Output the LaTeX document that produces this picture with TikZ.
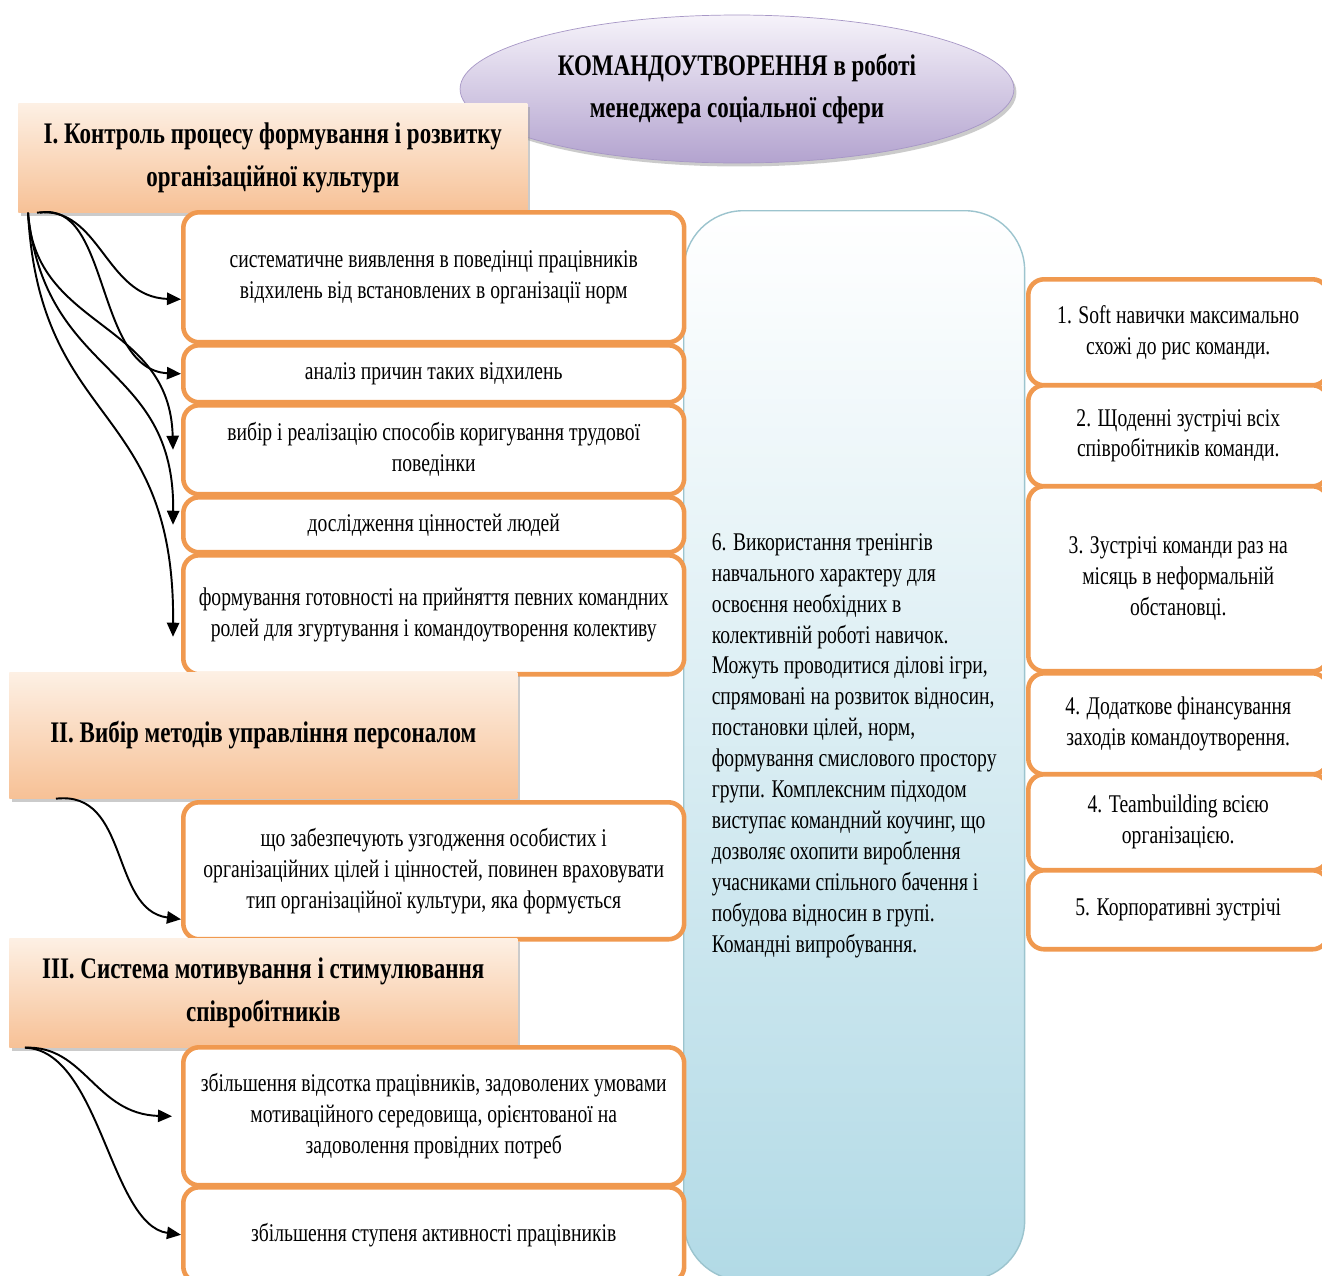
\documentclass[tikz,border=0pt]{standalone}
\usepackage{fontspec}
\setmainfont[FakeStretch=0.77]{Liberation Serif}
\usetikzlibrary{shapes.geometric, arrows.meta, positioning, shadows}
\definecolor{boxorange}{HTML}{F0994F}
\definecolor{hdrtop}{HTML}{FDF0E4}
\definecolor{hdrbot}{HTML}{F7C196}
\definecolor{lilactop}{HTML}{F6F3FA}
\definecolor{lilacbot}{HTML}{B3A3CF}
\definecolor{lilacline}{HTML}{A797C6}
\definecolor{skybot}{HTML}{B2DAE6}
\definecolor{skyline}{HTML}{9CC4CE}
\tikzset{
  hdrbox/.style={rectangle, top color=hdrtop, bottom color=hdrbot, anchor=north west, inner sep=0pt,
    drop shadow={shadow xshift=0.05cm, shadow yshift=-0.07cm, fill=black!40},
    font=\bfseries\fontsize{17}{24}\selectfont, align=center},
  itembox/.style={rectangle, rounded corners=9pt, draw=boxorange, line width=2.6pt, fill=white,
    anchor=north west, inner sep=0pt, font=\fontsize{14.5}{17.6}\selectfont, align=center},
  link/.style={-{Triangle[length=8pt,width=7pt]}, line width=1.1pt},
}
\begin{document}
\begin{tikzpicture}[x=0.02cm, y=-0.02cm]
\useasboundingbox[fill=white] (0,0) rectangle (1322,1275);

\node[ellipse, minimum width=11.08cm, minimum height=2.96cm, top color=lilactop, bottom color=lilacbot, draw=lilacline,
  drop shadow={shadow xshift=0.05cm, shadow yshift=-0.07cm, fill=black!40},
  font=\bfseries\fontsize{17}{24}\selectfont, align=center] (title) at (737,89)
  {КОМАНДОУТВОРЕННЯ в роботі\\менеджера соціальної сфери};

\node[hdrbox, minimum width=10.18cm, minimum height=2.18cm] (ctrl) at (18,103)
  {I. Контроль процесу формування і розвитку\\організаційної культури};

\node[rectangle, rounded corners=34pt, top color=white, bottom color=skybot, draw=skyline, line width=0.8pt,
  anchor=north west, minimum width=6.82cm, minimum height=21.4cm, inner sep=0pt,
  font=\fontsize{14.5}{17.6}\selectfont, align=left] (train) at (683,210)
  {6. Використання тренінгів\\навчального характеру для\\освоєння необхідних в\\колективній роботі навичок.\\
   Можуть проводитися ділові ігри,\\спрямовані на розвиток відносин,\\постановки цілей, норм,\\
   формування смислового простору\\групи. Комплексним підходом\\виступає командний коучинг, що\\
   дозволяє охопити вироблення\\учасниками спільного бачення і\\побудова відносин в групі.\\Командні випробування.};

\node[itembox, minimum width=10.02cm, minimum height=2.6cm] (a1) at (181,210)
  {систематичне виявлення в поведінці працівників\\відхилень від встановлених в організації норм};
\node[itembox, minimum width=10.02cm, minimum height=1.14cm] (a2) at (181,343)
  {аналіз причин таких відхилень};
\node[itembox, minimum width=10.02cm, minimum height=1.78cm] (a3) at (181,403)
  {вибір і реалізацію способів коригування трудової\\поведінки};
\node[itembox, minimum width=10.02cm, minimum height=1.1cm] (a4) at (181,495)
  {дослідження цінностей людей};
\node[itembox, minimum width=10.02cm, minimum height=2.38cm] (a5) at (181,553)
  {формування готовності на прийняття певних командних\\ролей для згуртування і командоутворення колективу};

\node[hdrbox, minimum width=10.16cm, minimum height=2.52cm] (mgmt) at (9,672)
  {II. Вибір методів управління персоналом};
\node[itembox, minimum width=10.02cm, minimum height=2.74cm] (b1) at (181,800)
  {що забезпечують узгодження особистих і\\організаційних цілей і цінностей, повинен враховувати\\тип організаційної культури, яка формується};

\node[hdrbox, minimum width=10.16cm, minimum height=2.18cm] (motiv) at (9,938)
  {III. Система мотивування і стимулювання\\співробітників};
\node[itembox, minimum width=10.02cm, minimum height=2.76cm] (c1) at (181,1045)
  {збільшення відсотка працівників, задоволених умовами\\мотиваційного середовища, орієнтованої на\\задоволення провідних потреб};
\node[itembox, minimum width=10.02cm, minimum height=1.9cm] (c2) at (181,1185)
  {збільшення ступеня активності працівників};

\node[itembox, minimum width=6cm, minimum height=2.12cm] (r1) at (1026,277)
  {1. Soft навички максимально\\схожі до рис команди.};
\node[itembox, minimum width=6cm, minimum height=2.02cm] (r2) at (1026,383)
  {2. Щоденні зустрічі всіх\\співробітників команди.};
\node[itembox, minimum width=6cm, minimum height=3.7cm] (r3) at (1026,484)
  {3. Зустрічі команди раз на\\місяць в неформальній\\обстановці.};
\node[itembox, minimum width=6cm, minimum height=2.02cm] (r4) at (1026,671)
  {4. Додаткове фінансування\\заходів командоутворення.};
\node[itembox, minimum width=6cm, minimum height=1.92cm] (r5) at (1026,772)
  {4. Teambuilding всією\\організацією.};
\node[itembox, minimum width=6cm, minimum height=1.58cm] (r6) at (1026,868)
  {5. Корпоративні зустрічі};

\draw[link] ([xshift=0.38cm]ctrl.south west) .. controls (100,205) and (105,297) .. ([yshift=-0.44cm]a1.west);
\draw[link] ([xshift=0.44cm]ctrl.south west) .. controls (110,200) and (95,370) .. (a2.west);
\draw[link] ([xshift=0.2cm]ctrl.south west) .. controls (35,330) and (170,320) .. ([xshift=-0.16cm]a3.west);
\draw[link] ([xshift=0.2cm]ctrl.south west) .. controls (45,380) and (175,360) .. ([xshift=-0.16cm]a4.west);
\draw[link] ([xshift=0.2cm]ctrl.south west) .. controls (40,430) and (175,400) .. ([xshift=-0.16cm,yshift=-0.44cm]a5.west);
\draw[link] ([xshift=0.94cm]mgmt.south west) .. controls (130,790) and (110,910) .. ([yshift=-0.97cm]b1.west);
\draw[link] ([xshift=0.32cm]motiv.south west) .. controls (85,1045) and (95,1114) .. ([xshift=-0.18cm]c1.west);
\draw[link] ([xshift=0.32cm]motiv.south west) .. controls (100,1050) and (110,1225) .. (c2.west);
\end{tikzpicture}
\end{document}
